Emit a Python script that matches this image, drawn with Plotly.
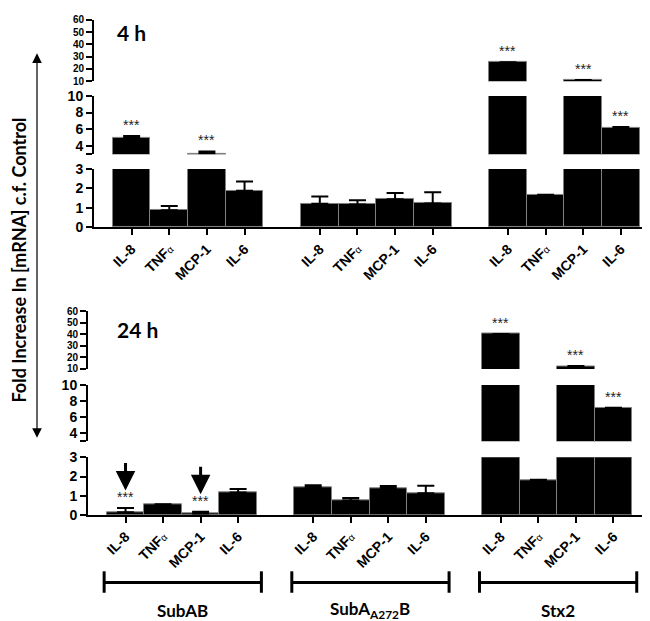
import plotly.graph_objects as go

# ---------------- data ----------------
categories = ["IL-8", "TNFα", "MCP-1", "IL-6"]
tick_labels = ["IL-8", "TNF<span style='font-size:10px;font-weight:normal'>α</span>", "MCP-1", "IL-6"]
groups = ["SubAB", "SubA<sub>A272</sub>B", "Stx2"]

# 4 h
subab_4h = [4.95, 0.88, 3.1, 1.88]
subab_4h_err = [0.25, 0.22, 0.25, 0.47]
suba272_4h = [1.22, 1.18, 1.45, 1.23]
suba272_4h_err = [0.36, 0.22, 0.32, 0.58]
stx2_4h = [25.5, 1.65, 11.0, 6.2]
stx2_4h_err = [0.0, 0.03, 0.0, 0.08]
sig_4h = [1, 0, 1, 0, 0, 0, 0, 0, 1, 0, 1, 1]

# 24 h
subab_24h = [0.15, 0.54, 0.08, 1.18]
subab_24h_err = [0.22, 0.03, 0.10, 0.18]
suba272_24h = [1.45, 0.76, 1.41, 1.13]
suba272_24h_err = [0.10, 0.13, 0.10, 0.40]
stx2_24h = [40.5, 1.80, 12.5, 7.1]
stx2_24h_err = [0.0, 0.03, 0.0, 0.05]
sig_24h = [1, 0, 1, 0, 0, 0, 0, 0, 1, 0, 1, 1]
arrow_24h = [1, 0, 1, 0, 0, 0, 0, 0, 0, 0, 0, 0]

panel_titles = ["4 h", "24 h"]
axis_title = "Fold Increase In [mRNA] c.f. Control"

segments = [(0, 3), (3, 10), (10, 60)]
seg_tickvals = [[0, 1, 2, 3], [3, 4, 6, 8, 10], [10, 20, 30, 40, 50, 60]]
seg_ticktext = [["0", "1", "2", "3"], ["", "4", "6", "8", "10"],
                ["10", "20", "30", "40", "50", "60"]]
seg_fontsize = [14, 14, 10]

# ---------------- layout helpers ----------------
W, H = 650, 621
def px(p):
    return p / W
def py(p):
    return 1 - p / H

xs = [g * 5 + c for g in range(3) for c in range(4)]
xlabels = tick_labels * 3

panels = [
    dict(vals=subab_4h + suba272_4h + stx2_4h,
         errs=subab_4h_err + suba272_4h_err + stx2_4h_err,
         sig=sig_4h, arrows=[0] * 12,
         xdom=[px(86), px(643)], xrange=[-1, 13.8],
         ydoms=[[py(217), py(157)], [py(142), py(82)], [py(67), py(4)]],
         title_pos=(107, 17)),
    dict(vals=subab_24h + suba272_24h + stx2_24h,
         errs=subab_24h_err + suba272_24h_err + stx2_24h_err,
         sig=sig_24h, arrows=arrow_24h,
         xdom=[px(80), px(643)], xrange=[-1, 14.0],
         ydoms=[[py(512.3), py(453)], [py(436.5), py(378.7)], [py(362.3), py(303.3)]],
         title_pos=(107, 322)),
]

fig = go.Figure()
layout = dict(width=W, height=H, margin=dict(l=0, r=0, t=0, b=0),
              autosize=False, plot_bgcolor="white", paper_bgcolor="white",
              showlegend=False, bargap=0)
annotations = []
shapes = []

def tfont(size):
    return dict(family="Liberation Sans, Arial", size=size, color="black", weight="bold")

for pi, p in enumerate(panels):
    xname = "x" if pi == 0 else "x2"
    xkey = "xaxis" if pi == 0 else "xaxis2"
    ynames = []
    for si in range(3):
        idx = pi * 3 + si + 1
        yname = "y" if idx == 1 else f"y{idx}"
        ykey = "yaxis" if idx == 1 else f"yaxis{idx}"
        ynames.append(yname)
        layout[ykey] = dict(domain=p["ydoms"][si], range=list(segments[si]),
                            anchor=xname, showline=True, linewidth=2, linecolor="black",
                            ticks="outside", ticklen=6, tickwidth=2, tickcolor="black",
                            tickvals=seg_tickvals[si], ticktext=seg_ticktext[si],
                            tickfont=tfont(seg_fontsize[si]), showgrid=False, zeroline=False,
                            fixedrange=True)
        fig.add_trace(go.Bar(
            x=xs, y=p["vals"], width=1, xaxis=xname, yaxis=yname,
            marker=dict(color="black", line=dict(color="#808080", width=1)),
            error_y=dict(type="data", array=p["errs"], arrayminus=[0] * 12,
                         symmetric=False, color="black", thickness=2, width=8.5),
            hoverinfo="skip"))
    layout[xkey] = dict(domain=p["xdom"], range=p["xrange"], anchor=ynames[0],
                        showline=True, linewidth=2, linecolor="black",
                        ticks="outside", ticklen=6, tickwidth=2, tickcolor="black",
                        tickvals=xs, ticktext=xlabels, tickangle=-45,
                        tickfont=tfont(14), showgrid=False, zeroline=False,
                        fixedrange=True)

    # significance stars / arrows
    for i in range(12):
        top = p["vals"][i] + p["errs"][i]
        si = 0 if top <= 3 else (1 if top <= 10 else 2)
        if p["sig"][i]:
            annotations.append(dict(x=xs[i], y=top, xref=xname, yref=ynames[si],
                                    text="***", showarrow=False, yanchor="middle",
                                    yshift=11, font=dict(family="Liberation Sans, Arial",
                                                         size=14, color="#222")))
        if p["arrows"][i]:
            annotations.append(dict(x=xs[i], y=top, xref=xname, yref=ynames[si],
                                    text="", showarrow=True, ax=0, ay=-29,
                                    yshift=17.5, arrowhead=2, arrowsize=1.3,
                                    arrowwidth=3, arrowcolor="black", standoff=0))
    tx, ty = p["title_pos"]
    annotations.append(dict(x=px(tx), y=py(ty), xref="paper", yref="paper",
                            text="<b>%s</b>" % panel_titles[pi], showarrow=False,
                            xanchor="left", yanchor="middle",
                            font=dict(family="Lato", size=21, color="black")))

# group brackets under the lower panel
for g in range(3):
    x0 = xs[g * 4] - 0.57
    x1 = xs[g * 4 + 3] + 0.62
    line = dict(color="black", width=3)
    shapes.append(dict(type="line", xref="x2", yref="paper", x0=x0, x1=x1,
                       y0=py(581.5), y1=py(581.5), line=line))
    for xx in (x0, x1):
        shapes.append(dict(type="line", xref="x2", yref="paper", x0=xx, x1=xx,
                           y0=py(570), y1=py(592), line=line))
    annotations.append(dict(x=(x0 + x1) / 2, y=py(610), xref="x2", yref="paper",
                            text="<b>%s</b>" % groups[g], showarrow=False,
                            xanchor="center", yanchor="middle",
                            font=dict(family="Lato", size=17, color="black")))

# y axis title and double arrow
annotations.append(dict(x=px(11), y=py(251), xref="paper", yref="paper",
                        text="<b>%s</b>" % axis_title, textangle=-90, showarrow=False,
                        xanchor="center", yanchor="middle",
                        font=dict(family="Lato", size=18, color="black")))
annotations.append(dict(x=px(29), y=py(433), xref="paper", yref="paper", text="",
                        showarrow=True, ax=0, ay=-386, arrowside="end+start",
                        arrowhead=2, startarrowhead=2, arrowsize=1.6, startarrowsize=1.6,
                        arrowwidth=1.2, arrowcolor="black", standoff=0, startstandoff=0))

layout["annotations"] = annotations
layout["shapes"] = shapes
fig.update_layout(**layout)
fig.write_html("out.html")
